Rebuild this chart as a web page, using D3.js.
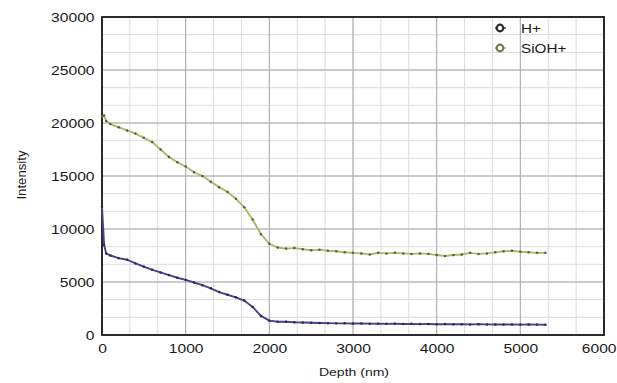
<!DOCTYPE html>
<html><head><meta charset="utf-8">
<script src="https://cdn.jsdelivr.net/npm/d3@7"></script>
<style>body{margin:0;background:#fff}svg{display:block}text{font-family:"Liberation Sans",Arial,sans-serif;fill:#1a1a1a}</style>
</head><body><svg id="c" width="617" height="383"></svg>
<script>
const depth = [0,25,50,100,200,300,400,500,600,700,800,900,1000,1100,1200,1300,1400,1500,1600,1700,1800,1900,2000,2100,2200,2300,2400,2500,2600,2700,2800,2900,3000,3100,3200,3300,3400,3500,3600,3700,3800,3900,4000,4100,4200,4300,4400,4500,4600,4700,4800,4900,5000,5100,5200,5300];
const hPlus = [12100,8500,7700,7500,7250,7100,6750,6450,6150,5900,5650,5400,5200,4950,4700,4400,4050,3800,3550,3250,2650,1800,1350,1250,1250,1200,1180,1150,1130,1120,1100,1100,1080,1090,1070,1060,1050,1060,1040,1050,1030,1040,1020,1030,1010,1020,1000,1010,1000,990,1000,990,980,990,980,970];
const siohPlus = [20600,20700,20200,19900,19600,19300,19000,18600,18200,17500,16800,16300,15900,15350,15000,14450,13950,13500,12850,12050,10900,9500,8600,8250,8150,8200,8100,8000,8050,7950,7900,7800,7750,7700,7600,7750,7700,7750,7700,7650,7700,7650,7550,7450,7550,7600,7750,7650,7700,7800,7900,7950,7850,7800,7750,7750];
const seriesNames = ["H+","SiOH+"];
const xTicks = [0,1000,2000,3000,4000,5000,6000];
const yTicks = [0,5000,10000,15000,20000,25000,30000];

const SX = 1.22; // horizontal stretch of the reference's lettering
const svg = d3.select("#c");
const m = {l:102,r:604,t:17,b:335};
const x = d3.scaleLinear().domain([0,6000]).range([m.l,m.r]);
const y = d3.scaleLinear().domain([0,30000]).range([m.b,m.t]);

// minor grid (thirds)
const xMinor = d3.range(0,6001,1000/3), yMinor = d3.range(0,30001,5000/3);
svg.append("g").selectAll("line").data(xMinor).join("line")
  .attr("x1",d=>x(d)).attr("x2",d=>x(d)).attr("y1",m.t).attr("y2",m.b)
  .attr("stroke","#dcdcdc").attr("stroke-width",1);
svg.append("g").selectAll("line").data(yMinor).join("line")
  .attr("y1",d=>y(d)).attr("y2",d=>y(d)).attr("x1",m.l).attr("x2",m.r)
  .attr("stroke","#dcdcdc").attr("stroke-width",1);
// major grid
svg.append("g").selectAll("line").data(xTicks).join("line")
  .attr("x1",d=>x(d)).attr("x2",d=>x(d)).attr("y1",m.t).attr("y2",m.b)
  .attr("stroke","#aaaaaa").attr("stroke-width",1);
svg.append("g").selectAll("line").data(yTicks).join("line")
  .attr("y1",d=>y(d)).attr("y2",d=>y(d)).attr("x1",m.l).attr("x2",m.r)
  .attr("stroke","#aaaaaa").attr("stroke-width",1);

// axes (labels)
const xa = svg.append("g").attr("transform",`translate(0,${m.b})`)
  .call(d3.axisBottom(x).tickValues(xTicks).tickSize(0).tickPadding(9).tickFormat(d3.format("d")));
const ya = svg.append("g").attr("transform",`translate(${m.l},0)`)
  .call(d3.axisLeft(y).tickValues(yTicks).tickSize(0).tickPadding(7.5).tickFormat(d3.format("d")));
[xa,ya].forEach(a=>{a.select(".domain").remove();
  a.selectAll("text").attr("font-size",12.8).attr("fill","#1a1a1a").attr("transform",`scale(${SX},1)`);});
ya.selectAll("text").attr("x",-7.5/SX).attr("dy","0.36em");
// last x label sits flush with the right edge, as in the reference
xa.selectAll(".tick").filter(d=>d===6000).select("text")
  .attr("text-anchor","end").attr("x",(616-m.r)/SX);

// frame
svg.append("rect").attr("x",m.l).attr("y",m.t).attr("width",m.r-m.l).attr("height",m.b-m.t)
  .attr("fill","none").attr("stroke","#1a1a1a").attr("stroke-width",1.8);

// series
const line = d3.line().x((d,i)=>x(depth[i])).y(d=>y(d));
const styles = [{line:"#45458a",dot:"#2a2a58"},{line:"#afb865",dot:"#5a5d3e"}];
[hPlus,siohPlus].forEach((s,k)=>{
  svg.append("path").datum(s).attr("d",line).attr("fill","none")
    .attr("stroke",styles[k].line).attr("stroke-width",1.9);
  svg.append("g").selectAll("circle").data(s).join("circle")
    .attr("cx",(d,i)=>x(depth[i])).attr("cy",d=>y(d)).attr("r",1.25).attr("fill",styles[k].dot);
});

// legend
const lg = svg.append("g");
seriesNames.forEach((n,k)=>{
  const ly = 28 + k*20;
  lg.append("line").attr("x1",495).attr("x2",506).attr("y1",ly).attr("y2",ly)
    .attr("stroke",styles[k].line).attr("stroke-width",1.5);
  lg.append("circle").attr("cx",500).attr("cy",ly).attr("r",3.3).attr("fill","#fff")
    .attr("stroke",k===0?"#2a2a2a":"#767a4a").attr("stroke-width",2.2);
  lg.append("text").attr("transform",`translate(521,${ly+4.5}) scale(${SX},1)`).attr("font-size",12.5).text(n);
});

// axis titles
svg.append("text").attr("transform",`translate(354,376) scale(${SX},1)`).attr("text-anchor","middle").attr("font-size",11.5).text("Depth (nm)");
svg.append("text").attr("transform",`translate(26,175) rotate(-90) scale(1.1,1)`).attr("text-anchor","middle").attr("font-size",12).text("Intensity");
</script></body></html>
